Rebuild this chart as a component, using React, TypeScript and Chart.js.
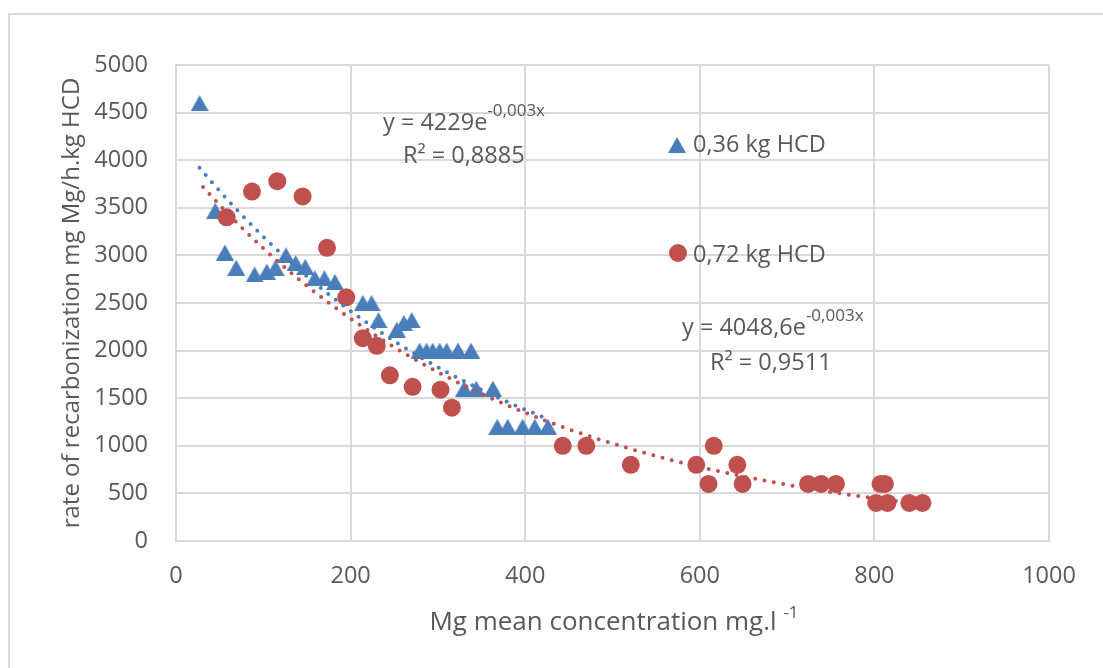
import { useEffect, useRef } from "react";
import { Chart, registerables } from "chart.js";

Chart.register(...registerables);

// ---------- data ----------
const seriesNames = ["0,36 kg HCD", "0,72 kg HCD"];

const blueX = [27, 45, 56, 69, 90, 104, 114, 126, 137, 148, 159, 170, 182, 214, 224, 232, 253, 261, 270, 279, 287, 294, 302, 310, 323, 338, 330, 344, 363, 368, 380, 397, 411, 426];
const blueY = [4600, 3470, 3030, 2870, 2800, 2830, 2870, 3000, 2920, 2880, 2760, 2760, 2720, 2500, 2500, 2320, 2220, 2290, 2320, 2000, 2000, 2000, 2000, 2000, 2000, 2000, 1600, 1600, 1600, 1200, 1200, 1200, 1200, 1200];

const redX = [58, 87, 116, 145, 173, 195, 214, 230, 245, 271, 303, 316, 443, 470, 521, 596, 616, 610, 643, 649, 724, 739, 756, 807, 812, 802, 815, 840, 855];
const redY = [3400, 3670, 3780, 3620, 3080, 2560, 2130, 2050, 1740, 1620, 1590, 1400, 1000, 1000, 800, 800, 1000, 600, 800, 600, 600, 600, 600, 600, 600, 400, 400, 400, 400];

// exponential trendlines y = A * exp(-k x)
const trendA = [4229, 4048.6];
const trendK = [0.0028, 0.00275];
const trendFrom = [27, 31];
const trendTo = [426, 855];
const trendEquations = ["y = 4229e", "y = 4048,6e"];
const trendExponents = ["-0,003x", "-0,003x"];
const trendR2 = ["R² = 0,8885", "R² = 0,9511"];

const xTicks = [0, 200, 400, 600, 800, 1000];
const yTicks = [0, 500, 1000, 1500, 2000, 2500, 3000, 3500, 4000, 4500, 5000];

const xTitle = "Mg mean concentration mg.l ";
const xTitleSup = "-1";
const yTitle = "rate of recarbonization mg Mg/h.kg HCD";

// ---------- styles ----------
const BLUE = "#4A7EBB";
const RED = "#C0504D";
const GRID = "#D9D9D9";
const TEXT = "#595959";
const FONT = "'Open Sans', 'Liberation Sans', sans-serif";

function trendPoints(i: number) {
  const pts: { x: number; y: number }[] = [];
  const step = 4;
  for (let x = trendFrom[i]; x <= trendTo[i] + 0.001; x += step) {
    pts.push({ x, y: trendA[i] * Math.exp(-trendK[i] * x) });
  }
  const last = pts[pts.length - 1];
  if (last.x < trendTo[i]) pts.push({ x: trendTo[i], y: trendA[i] * Math.exp(-trendK[i] * trendTo[i]) });
  return pts;
}

function makeTriangle(): HTMLCanvasElement {
  const c = document.createElement("canvas");
  c.width = 18;
  c.height = 16;
  const g = c.getContext("2d")!;
  g.fillStyle = BLUE;
  g.beginPath();
  g.moveTo(9, 0);
  g.lineTo(18, 16);
  g.lineTo(0, 16);
  g.closePath();
  g.fill();
  return c;
}

function drawSup(ctx: CanvasRenderingContext2D, x: number, base: number, main: string, sup: string, size: number, supSize: number, rise: number) {
  ctx.font = `${size}px ${FONT}`;
  ctx.textAlign = "left";
  ctx.textBaseline = "alphabetic";
  ctx.fillText(main, x, base);
  const w = ctx.measureText(main).width;
  ctx.font = `${supSize}px ${FONT}`;
  ctx.fillText(sup, x + w, base - rise);
}

export default function App() {
  const ref = useRef<HTMLCanvasElement>(null);

  useEffect(() => {
    const tri = makeTriangle();

    const annotations = {
      id: "annotations",
      beforeDraw(chart: any) {
        const ctx = chart.ctx as CanvasRenderingContext2D;
        ctx.save();
        ctx.fillStyle = "#ffffff";
        ctx.fillRect(0, 0, chart.width, chart.height);
        ctx.strokeStyle = GRID;
        ctx.lineWidth = 2;
        ctx.strokeRect(9, 14, 1200, 800);
        ctx.restore();
      },
      afterDraw(chart: any) {
        const ctx = chart.ctx as CanvasRenderingContext2D;
        ctx.save();
        ctx.fillStyle = TEXT;
        // equations
        drawSup(ctx, 383, 130, trendEquations[0], trendExponents[0], 23.5, 17, 14);
        ctx.font = `23.5px ${FONT}`;
        ctx.fillText(trendR2[0], 403, 163);
        drawSup(ctx, 682, 335, trendEquations[1], trendExponents[1], 23.5, 17, 14);
        ctx.font = `23.5px ${FONT}`;
        ctx.fillText(trendR2[1], 710, 370);
        // legend
        ctx.drawImage(tri, 677 - 9, 145 - 8);
        ctx.fillStyle = RED;
        ctx.beginPath();
        ctx.arc(678, 253, 9, 0, Math.PI * 2);
        ctx.fill();
        ctx.fillStyle = TEXT;
        ctx.font = `23.5px ${FONT}`;
        ctx.fillText(seriesNames[0], 693, 152);
        ctx.fillText(seriesNames[1], 693, 262);
        // x title
        ctx.font = `26px ${FONT}`;
        const w1 = ctx.measureText(xTitle).width;
        ctx.font = `17px ${FONT}`;
        const w2 = ctx.measureText(xTitleSup).width;
        const startX = 614 - (w1 + w2) / 2;
        drawSup(ctx, startX, 630, xTitle, xTitleSup, 26, 17, 12);
        // y title
        ctx.translate(79, 303);
        ctx.rotate(-Math.PI / 2);
        ctx.font = `24px ${FONT}`;
        ctx.textAlign = "center";
        ctx.textBaseline = "alphabetic";
        ctx.fillText(yTitle, 0, 0);
        ctx.restore();
      },
    };

    const tickFont = { family: FONT, size: 23.5 };
    const plain = (v: any) => String(v);

    const chart = new Chart(ref.current!, {
      type: "scatter",
      data: {
        datasets: [
          {
            label: seriesNames[0],
            data: blueX.map((x, i) => ({ x, y: blueY[i] })),
            pointStyle: tri,
            pointRadius: 9,
            backgroundColor: BLUE,
            borderColor: BLUE,
            showLine: false,
            order: 4,
          },
          {
            label: seriesNames[1],
            data: redX.map((x, i) => ({ x, y: redY[i] })),
            pointStyle: "circle",
            pointRadius: 9,
            borderWidth: 0,
            backgroundColor: RED,
            borderColor: RED,
            showLine: false,
            order: 3,
          },
          {
            label: "trend 1",
            data: trendPoints(0),
            showLine: true,
            pointRadius: 0,
            borderColor: BLUE,
            borderWidth: 4,
            borderDash: [0, 9.5],
            borderCapStyle: "round",
            fill: false,
            order: 2,
          },
          {
            label: "trend 2",
            data: trendPoints(1),
            showLine: true,
            pointRadius: 0,
            borderColor: RED,
            borderWidth: 4,
            borderDash: [0, 9.5],
            borderCapStyle: "round",
            fill: false,
            order: 1,
          },
        ],
      },
      options: {
        responsive: false,
        animation: false,
        events: [],
        layout: { padding: { top: 65, right: 54, left: 0, bottom: 0 } },
        plugins: { legend: { display: false }, tooltip: { enabled: false } },
        scales: {
          x: {
            type: "linear",
            position: "bottom",
            min: 0,
            max: 1000,
            afterBuildTicks: (s: any) => {
              s.ticks = xTicks.map((v) => ({ value: v }));
            },
            afterFit: (s: any) => {
              s.height = 127;
            },
            ticks: { font: tickFont, color: TEXT, padding: 21, maxRotation: 0, callback: plain },
            grid: { color: GRID, lineWidth: 2, drawTicks: false },
            border: { color: GRID, width: 2 },
          },
          y: {
            type: "linear",
            position: "left",
            min: 0,
            max: 5000,
            afterBuildTicks: (s: any) => {
              s.ticks = yTicks.map((v) => ({ value: v }));
            },
            afterFit: (s: any) => {
              s.width = 176;
            },
            ticks: { font: tickFont, color: TEXT, padding: 28, callback: plain },
            grid: { color: GRID, lineWidth: 2, drawTicks: false },
            border: { color: GRID, width: 2 },
          },
        },
      },
      plugins: [annotations],
    } as any);

    return () => chart.destroy();
  }, []);

  return (
    <div style={{ position: "fixed", left: 0, top: 0, width: 1103, height: 668, background: "#fff" }}>
      <canvas ref={ref} width={1103} height={668} style={{ display: "block" }} />
    </div>
  );
}
